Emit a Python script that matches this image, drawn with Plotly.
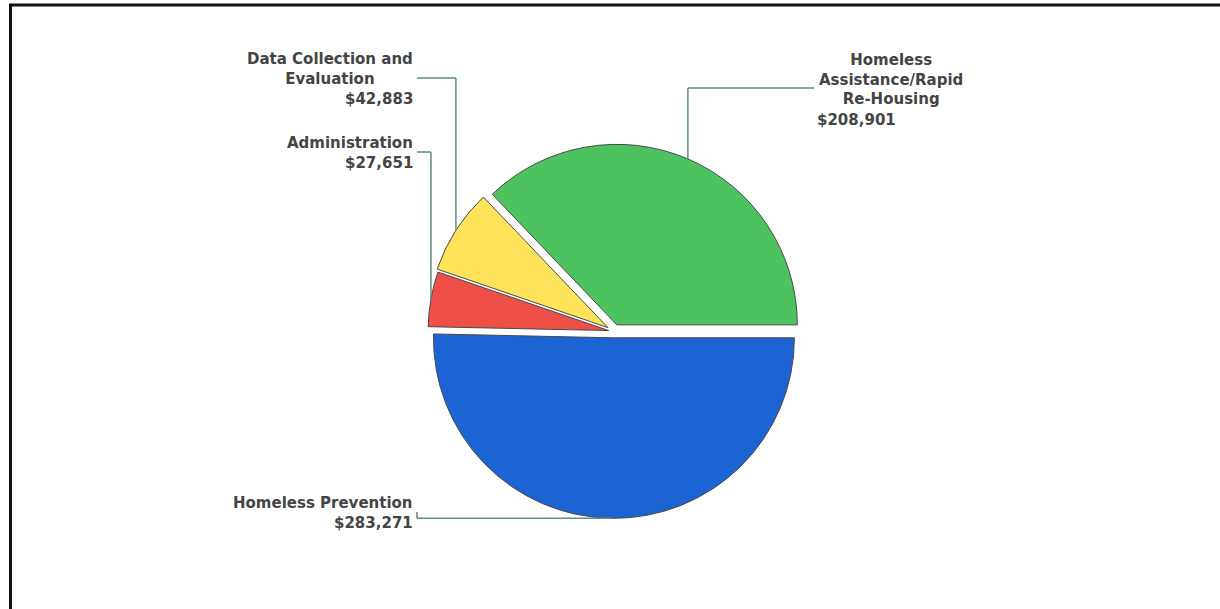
import math
import plotly.graph_objects as go

# ---------------- data ----------------
categories = ["Homeless Prevention", "Administration",
              "Data Collection and Evaluation",
              "Homeless Assistance/Rapid Re-Housing"]
values = [283271, 27651, 42883, 208901]
display_names = ["Homeless Prevention", "Administration",
                 "Data Collection and<br>Evaluation",
                 "Homeless<br>Assistance/Rapid<br>Re-Housing"]

# ---------------- style ----------------
colors = ["#1c64d4", "#ee4f47", "#ffe35a", "#4cc35f"]
pulls = [0.035, 0.03, 0.04, 0.04]

W, H = 1220, 609
CX, CY, R = 614, 331.5, 180.5       # pie centre / radius in pixels
ROT = 90
max_pull = max(pulls)
half = R * (1 + max_pull)
dom_x = [(CX - half) / W, (CX + half) / W]
dom_y = [(H - CY - half) / H, (H - CY + half) / H]

def px(x):
    return x / W

def py(y):
    return 1 - y / H

# label layout (pixel positions): side, name x, name centre y, value y, connector y
label_layout = [
    ("left", 415, 502.5, 523, 512),
    ("left", 415, 142.5, 162.5, 152),
    ("left", 415, 69, 99.5, 78),
    ("right", 891, 79.5, 119.5, 88),
]
value_x_right = 815

fig = go.Figure(go.Pie(
    labels=categories, values=values, sort=False,
    direction="clockwise", rotation=ROT, pull=pulls,
    marker=dict(colors=colors, line=dict(color="#4a4a4a", width=1)),
    textinfo="none", hoverinfo="label+value",
    domain=dict(x=dom_x, y=dom_y), showlegend=False,
))

font = dict(family="DejaVu Sans", size=15, color="#444444", weight="bold")
line_style = dict(color="#5a8f7b", width=1.5)

total = sum(values)
cum = 0
annotations, shapes = [], []
for cat, val, name, pull, lay in zip(categories, values, display_names, pulls, label_layout):
    a0 = ROT + cum / total * 360
    a1 = ROT + (cum + val) / total * 360
    cum += val
    mid = math.radians((a0 + a1) / 2)
    rr = R * (1 + pull)
    ax = CX + rr * math.sin(mid)
    ay = CY - rr * math.cos(mid)
    side, nx, ny, vy, cy_line = lay
    if side == "left":
        annotations.append(dict(text=name, x=px(nx), y=py(ny), xref="paper", yref="paper",
                                xanchor="right", yanchor="middle", align="center",
                                showarrow=False, font=font))
        annotations.append(dict(text=f"${val:,}", x=px(nx), y=py(vy), xref="paper", yref="paper",
                                xanchor="right", yanchor="middle", align="right",
                                showarrow=False, font=font))
        end_x = nx + 2
    else:
        annotations.append(dict(text=name, x=px(nx), y=py(ny), xref="paper", yref="paper",
                                xanchor="center", yanchor="middle", align="center",
                                showarrow=False, font=font))
        annotations.append(dict(text=f"${val:,}", x=px(value_x_right), y=py(vy), xref="paper",
                                yref="paper", xanchor="left", yanchor="middle", align="left",
                                showarrow=False, font=font))
        end_x = value_x_right - 1
    if abs(ay - cy_line) > 15:
        pts = [(ax, ay), (ax, cy_line), (end_x, cy_line)]
    else:
        pts = [(ax, ay), (end_x, ay), (end_x, cy_line)]
    for (x0, y0), (x1, y1) in zip(pts[:-1], pts[1:]):
        shapes.append(dict(type="line", xref="paper", yref="paper",
                           x0=px(x0), y0=py(y0), x1=px(x1), y1=py(y1), line=line_style))

# chart frame (top and left edges visible)
shapes.append(dict(type="rect", xref="paper", yref="paper",
                   x0=px(10.5), y0=-0.5, x1=1.5, y1=py(5),
                   line=dict(color="#111111", width=3), fillcolor="rgba(0,0,0,0)"))

fig.update_layout(
    width=W, height=H, margin=dict(l=0, r=0, t=0, b=0),
    paper_bgcolor="white", plot_bgcolor="white",
    annotations=annotations, shapes=shapes,
)

fig.write_html("out.html", config={"displayModeBar": False},
               post_script="document.body.style.margin='0px';")
